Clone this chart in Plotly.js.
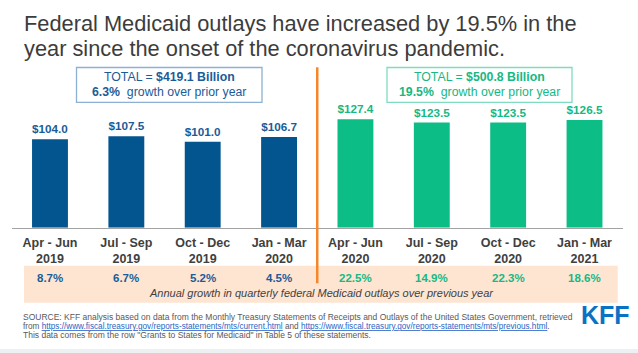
<!DOCTYPE html>
<html>
<head>
<meta charset="utf-8">
<script src="https://cdn.plot.ly/plotly-3.0.1.min.js"></script>
<style>html,body{margin:0;padding:0;background:#fff}#chart{width:638px;height:353px}</style>
</head>
<body>
<div id="chart"></div>
<script>
// ---- data ----
const quarters = ['Apr - Jun', 'Jul - Sep', 'Oct - Dec', 'Jan - Mar'];
const yearsBefore = ['2019', '2019', '2019', '2020'];
const yearsDuring = ['2020', '2020', '2020', '2021'];
const outlaysBefore = [104.0, 107.5, 101.0, 106.7];
const outlaysDuring = [127.4, 123.5, 123.5, 126.5];
const growthBefore = [8.7, 6.7, 5.2, 4.5];
const growthDuring = [22.5, 14.9, 22.3, 18.6];
const totalBefore = 419.1, totalDuring = 500.8;
const totalGrowthBefore = 6.3, totalGrowthDuring = 19.5;
const titleLines = ['Federal Medicaid outlays have increased by 19.5% in the',
                    'year since the onset of the coronavirus pandemic.'];
const noteText = 'Annual growth in quarterly federal Medicaid outlays over previous year';
const linkCurrent = 'https://www.fiscal.treasury.gov/reports-statements/mts/current.html';
const linkPrevious = 'https://www.fiscal.treasury.gov/reports-statements/mts/previous.html';

// ---- helpers ----
const W = 638, H = 353;
const px = x => x / W;
const py = y => 1 - y / H;
const FONT = 'Liberation Sans, Arial, sans-serif';
const BLUE = '#03558f', GREEN = '#0dbd86', GRAY = '#404040';
const BLUE_T = '#1a5c98', GREEN_T = '#16b883';

const catsBefore = quarters.map((q, i) => q + '<br>' + yearsBefore[i]);
const catsDuring = quarters.map((q, i) => q + '<br>' + yearsDuring[i]);
const allCats = catsBefore.concat(catsDuring);

const barText = {family: FONT, size: 12.5, weight: 'bold'};
const traces = [
  {type: 'bar', x: catsBefore, y: outlaysBefore, marker: {color: BLUE},
   texttemplate: '$%{y:.1f}', textposition: 'outside', cliponaxis: false,
   textfont: Object.assign({color: BLUE_T}, barText), hoverinfo: 'skip'},
  {type: 'bar', x: catsDuring, y: outlaysDuring, marker: {color: GREEN},
   texttemplate: '$%{y:.1f}', textposition: 'outside', cliponaxis: false,
   textfont: Object.assign({color: GREEN_T}, barText), hoverinfo: 'skip'}
];

const ann = [];
// title lines
ann.push({text: titleLines[0], x: px(22), y: py(23), xanchor: 'left', yanchor: 'middle',
  font: {family: FONT, size: 21.8, color: '#3c3c3c'}});
ann.push({text: titleLines[1], x: px(22), y: py(48.5), xanchor: 'left', yanchor: 'middle',
  font: {family: FONT, size: 21.8, color: '#3c3c3c'}});
// box texts
ann.push({text: 'TOTAL = <b>$' + totalBefore.toFixed(1) + ' Billion</b>', x: px(169), y: py(76.7),
  xanchor: 'center', yanchor: 'middle', font: {family: FONT, size: 12.3, color: BLUE_T}});
ann.push({text: '<b>' + totalGrowthBefore.toFixed(1) + '%</b>  growth over prior year', x: px(169), y: py(92.2),
  xanchor: 'center', yanchor: 'middle', font: {family: FONT, size: 12.3, color: BLUE_T}});
ann.push({text: 'TOTAL = <b>$' + totalDuring.toFixed(1) + ' Billion</b>', x: px(479.5), y: py(76.7),
  xanchor: 'center', yanchor: 'middle', font: {family: FONT, size: 12.3, color: GREEN_T}});
ann.push({text: '<b>' + totalGrowthDuring.toFixed(1) + '%</b>  growth over prior year', x: px(479.5), y: py(92.2),
  xanchor: 'center', yanchor: 'middle', font: {family: FONT, size: 12.3, color: GREEN_T}});
// growth labels
growthBefore.forEach((g, i) => ann.push({text: '<b>' + g.toFixed(1) + '%</b>', x: i, xref: 'x', y: py(277.5),
  xanchor: 'center', yanchor: 'middle', font: {family: FONT, size: 11.5, color: BLUE_T}}));
growthDuring.forEach((g, i) => ann.push({text: '<b>' + g.toFixed(1) + '%</b>', x: i + 4, xref: 'x', y: py(277.5),
  xanchor: 'center', yanchor: 'middle', font: {family: FONT, size: 11.5, color: GREEN_T}}));
ann.push({text: '<i>' + noteText + '</i>', x: px(321), y: py(293.3), xanchor: 'center', yanchor: 'middle',
  font: {family: FONT, size: 11, color: '#3f3f3f'}});
// source
const srcFont = {family: FONT, size: 8.5, color: '#595959'};
const lk = u => '<span style="text-decoration:underline;fill:#2a63c4">' + u + '</span>';
ann.push({text: 'SOURCE: KFF analysis based on data from the Monthly Treasury Statements of Receipts and Outlays of the United States Government, retrieved',
  x: px(21), y: py(316.5), xanchor: 'left', yanchor: 'middle', font: srcFont});
ann.push({text: 'from ' + lk(linkCurrent) + ' and ' + lk(linkPrevious) + '.',
  x: px(21), y: py(326), xanchor: 'left', yanchor: 'middle', font: {family: FONT, size: 8.2, color: '#595959'}});
ann.push({text: 'This data comes from the row "Grants to States for Medicaid" in Table 5 of these statements.',
  x: px(21), y: py(335.3), xanchor: 'left', yanchor: 'middle', font: srcFont});
// logo
ann.push({text: '<b>KFF</b>', x: px(605.3), y: py(314.5), xanchor: 'center', yanchor: 'middle',
  font: {family: 'Liberation Sans Narrow, Arial Narrow, ' + FONT, size: 25, color: '#0a72c2'}});
ann.forEach(a => { a.showarrow = false; if (!a.xref) a.xref = 'paper'; a.yref = 'paper'; });

const shapes = [
  {type: 'rect', xref: 'paper', yref: 'paper', x0: px(24), x1: px(617.7), y0: py(302.7), y1: py(265.7),
   fillcolor: '#fde5d2', line: {width: 0}, layer: 'below'},
  {type: 'rect', xref: 'paper', yref: 'paper', x0: 0, x1: 1, y0: 0, y1: py(349),
   fillcolor: '#edf0f3', line: {width: 0}, layer: 'below'},
  {type: 'rect', xref: 'paper', yref: 'paper', x0: px(76.5), x1: px(262), y0: py(102.3), y1: py(67.5),
   line: {color: '#8db1d2', width: 1.3}},
  {type: 'rect', xref: 'paper', yref: 'paper', x0: px(387), x1: px(572), y0: py(102.3), y1: py(67.5),
   line: {color: '#7fdcc0', width: 1.3}},
  {type: 'line', xref: 'x', yref: 'paper', x0: 3.5, x1: 3.5, y0: py(283.3), y1: py(67.3),
   line: {color: '#f5872a', width: 2.5}}
];

const layout = {
  width: W, height: H,
  margin: {l: 0, r: 0, t: 0, b: 0},
  paper_bgcolor: '#ffffff', plot_bgcolor: 'rgba(0,0,0,0)',
  showlegend: false,
  barmode: 'overlay', bargap: 0.53,
  xaxis: {domain: [px(11.8), px(622.7)], type: 'category', categoryorder: 'array', categoryarray: allCats,
    range: [-0.5, 7.5], showline: true, linecolor: '#a3a3a3', linewidth: 1, ticks: '', showgrid: false,
    zeroline: false, ticklabelstandoff: 3,
    tickfont: {family: FONT, size: 12.5, color: GRAY, weight: 'bold'}, fixedrange: true},
  yaxis: {domain: [py(227.7), py(67)], range: [0, 188.8], visible: false, fixedrange: true},
  annotations: ann,
  shapes: shapes
};

Plotly.newPlot('chart', traces, layout, {staticPlot: true, displayModeBar: false});
</script>
</body>
</html>
